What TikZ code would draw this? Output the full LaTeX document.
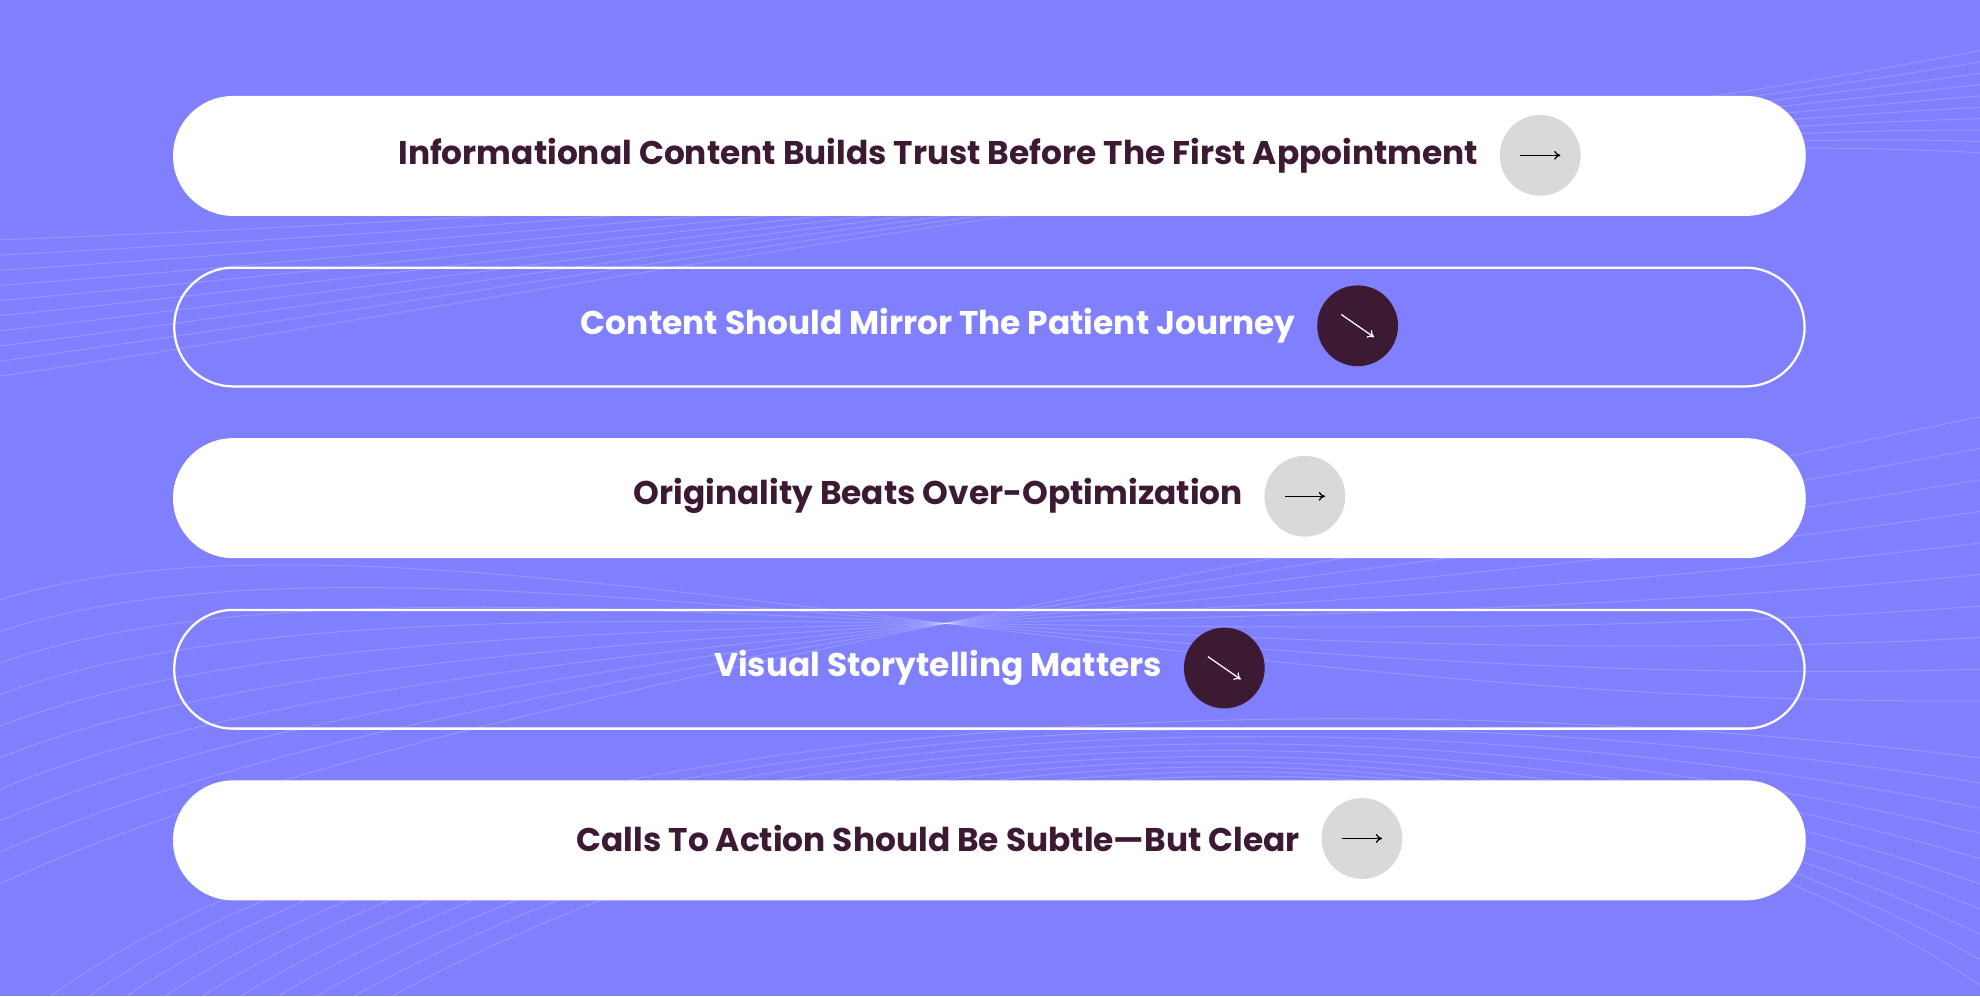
\documentclass[tikz,border=0pt]{standalone}
\usepackage{fontspec}
\setmainfont{Poppins}
\usetikzlibrary{arrows.meta}
\definecolor{bg}{HTML}{8080FF}
\definecolor{ink}{HTML}{3D1A33}
\definecolor{chip}{HTML}{D9D9D9}
\tikzset{
  pillw/.style={fill=white, rounded corners=47.5pt},
  pillo/.style={draw=white, line width=1.8pt, rounded corners=46.5pt},
  lab/.style={font=\fontsize{26}{30}\selectfont\bfseries, inner sep=0pt, anchor=center},
  chipg/.style={circle, fill=chip, minimum size=64pt, inner sep=0pt},
  chipd/.style={circle, fill=ink, minimum size=64pt, inner sep=0pt},
  wave/.style={white, opacity=0.18, line width=0.8pt}
}
\begin{document}
\begin{tikzpicture}[x=1pt,y=-1pt]
\fill[bg] (0,0) rectangle (1568,789);
\useasboundingbox (0,0) rectangle (1568,789);
% background waves
\foreach \i in {0,...,9}{
  \draw[wave] (0,{190+\i*12}) .. controls (500,{170+\i*6}) and (1100,{130-\i*4}) .. (1568,{40+\i*9});
  \draw[wave] (0,{700-\i*25}) .. controls (300,{560-\i*20}) and (900,{470+\i*10}) .. (1568,{330+\i*25});
  \draw[wave] ({40+\i*30},789) .. controls ({300+\i*40},600) and ({900+\i*30},520) .. (1568,{600+\i*20});
}
% pills
\fill[pillw] (137,76) rectangle (1430,171);
\draw[pillo] (138,212) rectangle (1429,306);
\fill[pillw] (137,347) rectangle (1430,442);
\draw[pillo] (138,483) rectangle (1429,577);
\fill[pillw] (137,618) rectangle (1430,713);
% labels and chips
\node[lab, text=ink] (t1) at (743,123) {Informational Content Builds Trust Before The First Appointment};
\node[chipg] (c1) at ([xshift=49pt]t1.east) {};
\node[lab, text=white] (t2) at (743,258) {Content Should Mirror The Patient Journey};
\node[chipd] (c2) at ([xshift=49pt]t2.east) {};
\node[lab, text=ink] (t3) at (743,393) {Originality Beats Over-Optimization};
\node[chipg] (c3) at ([xshift=49pt]t3.east) {};
\node[lab, text=white] (t4) at (743,529) {Visual Storytelling Matters};
\node[chipd] (c4) at ([xshift=49pt]t4.east) {};
\node[lab, text=ink] (t5) at (743,664) {Calls To Action Should Be Subtle—But Clear};
\node[chipg] (c5) at ([xshift=49pt]t5.east) {};
% arrows
\foreach \c in {c1,c3,c5}{
  \draw[black, line width=1pt, -{To[length=5pt,width=7pt]}] ([xshift=-16pt]\c.center) -- ([xshift=16pt]\c.center);
}
\foreach \c in {c2,c4}{
  \draw[white, line width=1pt, -{To[length=5pt,width=7pt]}] ([shift={(-13pt,9pt)}]\c.center) -- ([shift={(13pt,-9pt)}]\c.center);
}
\end{tikzpicture}
\end{document}
